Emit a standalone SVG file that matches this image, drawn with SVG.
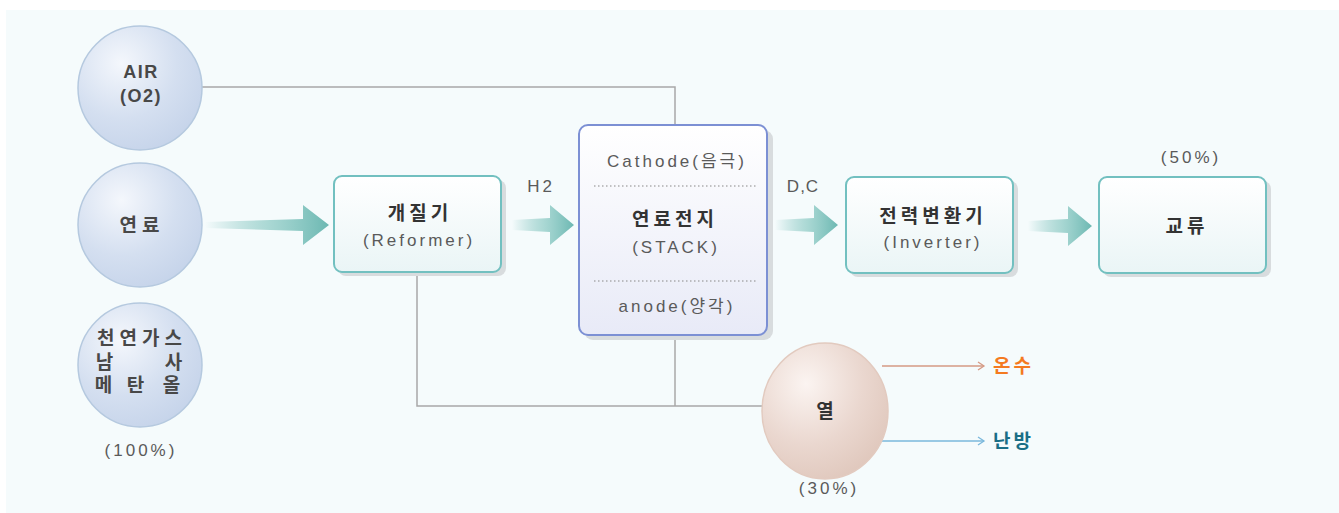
<svg xmlns="http://www.w3.org/2000/svg" width="1339" height="513" viewBox="0 0 1339 513">
<defs>
<radialGradient id="gc" cx="0.35" cy="0.3" r="0.75">
<stop offset="0" stop-color="#f4f7fc"/>
<stop offset="0.6" stop-color="#d4dff0"/>
<stop offset="1" stop-color="#c6d4ea"/>
</radialGradient>
<radialGradient id="gh" cx="0.35" cy="0.3" r="0.75">
<stop offset="0" stop-color="#fbf4f1"/>
<stop offset="0.6" stop-color="#ead7cf"/>
<stop offset="1" stop-color="#e0c8bd"/>
</radialGradient>
<linearGradient id="gb" x1="0" y1="0" x2="0" y2="1">
<stop offset="0" stop-color="#ffffff"/>
<stop offset="1" stop-color="#eaf5f6"/>
</linearGradient>
<linearGradient id="gs" x1="0" y1="0" x2="0" y2="1">
<stop offset="0" stop-color="#ffffff"/>
<stop offset="1" stop-color="#e8eaf7"/>
</linearGradient>
<linearGradient id="ga" x1="0" y1="0" x2="1" y2="0">
<stop offset="0" stop-color="#6cb8b2" stop-opacity="0"/>
<stop offset="0.5" stop-color="#8ccac4" stop-opacity="0.7"/>
<stop offset="1" stop-color="#6cb8b2"/>
</linearGradient>
<marker id="mo" markerWidth="10" markerHeight="10" refX="8" refY="5" orient="auto" markerUnits="userSpaceOnUse">
<path d="M2,1 L8,5 L2,9" fill="none" stroke="#d59a85" stroke-width="1.3"/>
</marker>
<marker id="mb" markerWidth="10" markerHeight="10" refX="8" refY="5" orient="auto" markerUnits="userSpaceOnUse">
<path d="M2,1 L8,5 L2,9" fill="none" stroke="#7ab8dc" stroke-width="1.3"/>
</marker>
</defs>
<style>
text{font-family:"Liberation Sans","Noto Sans CJK KR",sans-serif;text-anchor:middle}
.t{font-size:19px;fill:#484848;font-weight:bold;letter-spacing:5px}
.e{font-size:18px;fill:#484848;font-weight:bold;letter-spacing:1.5px}
.n{font-size:17px;fill:#5a5a5a;letter-spacing:3px}
.b{font-size:19px;fill:#333;font-weight:bold;letter-spacing:4px}
.s{text-anchor:start;font-size:19px;font-weight:bold;letter-spacing:3px}
.c{stroke:#b5c9df;stroke-width:1.5;fill:url(#gc)}
.box{fill:url(#gb);stroke:#72c0c0;stroke-width:2}
.sh{fill:#d8dcde}
.ln{fill:none;stroke:#a8a8a8;stroke-width:1.5}
.dot{stroke:#888;stroke-width:1.2;stroke-dasharray:1.5 2.5}
</style>
<rect x="6" y="10" width="1333" height="503" fill="#f5fbfc"/>
<g id="connectors">
<polyline class="ln" points="202,87 675,87 675,125"/>
<polyline class="ln" points="417,272 417,406 763,406"/>
<line class="ln" x1="675" y1="335" x2="675" y2="406"/>
<g id="arrow1"><path d="M205,222 L303,219 L303,205 L329,225 L303,245 L303,231 L205,228 Z" fill="url(#ga)"/></g>
<g id="arrow2"><path d="M512,220 L550,218 L550,205 L574,225 L550,245 L550,232 L512,230 Z" fill="url(#ga)"/></g>
<g id="arrow3"><path d="M775,220 L814,218 L814,205 L838,225 L814,245 L814,232 L775,230 Z" fill="url(#ga)"/></g>
<g id="arrow4"><path d="M1028,221 L1068,219 L1068,206 L1092,226 L1068,246 L1068,233 L1028,231 Z" fill="url(#ga)"/></g>
<line x1="882" y1="366" x2="984" y2="366" stroke="#d59a85" stroke-width="1.5" marker-end="url(#mo)"/>
<line x1="882" y1="441" x2="984" y2="441" stroke="#7ab8dc" stroke-width="1.5" marker-end="url(#mb)"/>
<text class="n" x="541" y="192">H2</text>
<text class="n" x="803" y="192" style="letter-spacing:1px">D,C</text>
</g>
<g id="air">
<circle class="c" cx="140" cy="88" r="62"/>
<text class="e" x="141" y="78">AIR</text>
<text class="e" x="141" y="102">(O2)</text>
</g>
<g id="fuel">
<circle class="c" cx="140" cy="225" r="62"/>
<text class="t" x="142" y="232">연료</text>
</g>
<g id="gas">
<circle class="c" cx="140" cy="365" r="62"/>
<text class="t" x="142" y="345">천연가스</text>
<text class="t" x="107" y="369">남</text>
<text class="t" x="176" y="369">사</text>
<text class="t" x="106" y="392">메</text>
<text class="t" x="138" y="392">탄</text>
<text class="t" x="174" y="392">올</text>
<text class="n" x="141" y="456">(100%)</text>
</g>
<g id="reformer">
<rect class="sh" x="338" y="180" width="168" height="96" rx="8"/>
<rect class="box" x="334" y="176" width="167" height="96" rx="8"/>
<text class="b" x="420" y="220">개질기</text>
<text class="n" x="419" y="246">(Reformer)</text>
</g>
<g id="stack">
<rect class="sh" x="584" y="130" width="189" height="210" rx="9"/>
<rect x="579" y="125" width="188" height="210" rx="9" fill="url(#gs)" stroke="#7c90d4" stroke-width="2"/>
<text class="n" x="677" y="167">Cathode(음극)</text>
<line class="dot" x1="594" y1="186" x2="757" y2="186"/>
<text class="b" x="675" y="226">연료전지</text>
<text class="n" x="676" y="253">(STACK)</text>
<line class="dot" x1="594" y1="281" x2="757" y2="281"/>
<text class="n" x="677" y="312">anode(양각)</text>
</g>
<g id="inverter">
<rect class="sh" x="850" y="181" width="168" height="96" rx="8"/>
<rect class="box" x="846" y="177" width="167" height="96" rx="8"/>
<text class="b" x="933" y="223">전력변환기</text>
<text class="n" x="933" y="248">(Inverter)</text>
</g>
<g id="ac">
<text class="n" x="1191" y="163">(50%)</text>
<rect class="sh" x="1103" y="181" width="168" height="96" rx="8"/>
<rect class="box" x="1099" y="177" width="167" height="96" rx="8"/>
<text class="b" x="1187" y="233">교류</text>
</g>
<g id="heat">
<ellipse cx="825" cy="411" rx="63" ry="68" fill="url(#gh)" stroke="#e2cabf" stroke-width="1.5"/>
<text class="b" x="827" y="418">열</text>
<text class="n" x="829" y="494">(30%)</text>
</g>
<g id="hotwater"><text class="s" x="993" y="373" fill="#f47a20">온수</text></g>
<g id="heating"><text class="s" x="993" y="448" fill="#1a6e86">난방</text></g>
</svg>
